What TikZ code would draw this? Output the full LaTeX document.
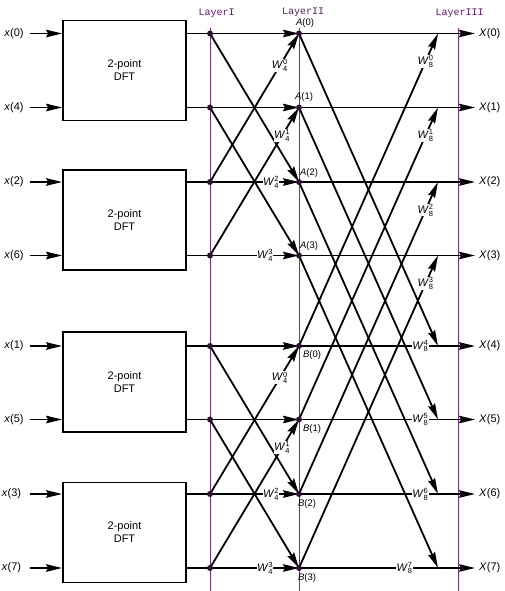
\documentclass[tikz,border=0pt]{standalone}
\usepackage{fontspec}
\setmainfont{Liberation Sans}
\newfontfamily\layerfont{Liberation Mono}
\usetikzlibrary{arrows.meta}
\definecolor{lpurple}{RGB}{125,45,135}
\definecolor{tpurple}{RGB}{95,25,110}
\definecolor{dotc}{RGB}{50,15,55}
\newcommand{\twf}[2]{\textit{W}$^{\mbox{\fontsize{7.5}{8}\selectfont #2}}_{\mbox{\fontsize{7.5}{8}\selectfont #1}}$}
\tikzset{
  wire/.style={line width=1.8pt, black},
  arr/.style={wire, -{Stealth[length=16pt,width=7.5pt,inset=2pt]}},
  layerline/.style={lpurple, line width=1pt},
  dot/.style={circle, fill=dotc, inner sep=0pt, minimum size=6pt},
  dftbox/.style={draw, line width=1.8pt, minimum width=123pt, minimum height=100pt, align=center, font=\fontsize{11}{13}\selectfont},
  lab/.style={font=\fontsize{11}{13}\selectfont, inner sep=1pt},
  nlab/.style={font=\fontsize{9.5}{11}\selectfont, inner sep=0pt},
  wlab/.style={font=\fontsize{11}{13}\selectfont, fill=white, inner sep=0.3pt},
  layerlab/.style={font=\layerfont\fontsize{10}{12}\selectfont, text=tpurple},
}
\begin{document}
\begin{tikzpicture}[x=1pt,y=-1pt]
\useasboundingbox (0,0) rectangle (504,591);
% rows
\foreach \i/\r in {0/33.5,1/107.5,2/182,3/255.5,4/346,5/419.5,6/494,7/568}{
  \coordinate (L\i) at (210,\r);
  \coordinate (T\i) at (438,\r);
  \coordinate (O\i) at (475,\r);
}
\coordinate (A0) at (299,33.5);
\coordinate (A1) at (299,107.5);
\coordinate (A2) at (299,182);
\coordinate (A3) at (299,255.5);
\coordinate (B0) at (299,346);
\coordinate (B1) at (299,419.5);
\coordinate (B2) at (299,494);
\coordinate (B3) at (299,568);
% layer guide lines
\coordinate (g1t) at (210,28); \coordinate (g1b) at (210,591);
\coordinate (g2t) at (299,28); \coordinate (g2b) at (299,591);
\coordinate (g3t) at (458,28); \coordinate (g3b) at (458,591);
\draw[layerline] (g1t) -- (g1b);
\draw[layerline] (g2t) -- (g2b);
\draw[layerline] (g3t) -- (g3b);
\node[layerlab] (ly1) at (216.5,13) {LayerI};
\node[layerlab] (ly2) at (303,12) {LayerII};
\node[layerlab] (ly3) at (459.5,13) {LayerIII};
% boxes
\node[dftbox] (box1) at (124.5,70.5) {2-point\\DFT};
\node[dftbox] (box2) at (124.5,220) {2-point\\DFT};
\node[dftbox] (box3) at (124.5,382) {2-point\\DFT};
\node[dftbox] (box4) at (124.5,532.5) {2-point\\DFT};
% inputs
\node[lab] (x0) at (14,33.5) {\textit{x}(0)};
\node[lab] (x4) at (14,107.5) {\textit{x}(4)};
\node[lab] (x2) at (14,182) {\textit{x}(2)};
\node[lab] (x6) at (14,255.5) {\textit{x}(6)};
\node[lab] (x1) at (14,346) {\textit{x}(1)};
\node[lab] (x5) at (14,419.5) {\textit{x}(5)};
\node[lab] (x3) at (11.5,494) {\textit{x}(3)};
\node[lab] (x7) at (11.5,568) {\textit{x}(7)};
\draw[arr, shorten <=5pt] (x0.east) -- (box1.west |- x0);
\draw[arr, shorten <=5pt] (x4.east) -- (box1.west |- x4);
\draw[arr, shorten <=5pt] (x2.east) -- (box2.west |- x2);
\draw[arr, shorten <=5pt] (x6.east) -- (box2.west |- x6);
\draw[arr, shorten <=5pt] (x1.east) -- (box3.west |- x1);
\draw[arr, shorten <=5pt] (x5.east) -- (box3.west |- x5);
\draw[arr, shorten <=7.5pt] (x3.east) -- (box4.west |- x3);
\draw[arr, shorten <=7.5pt] (x7.east) -- (box4.west |- x7);
% box outputs
\draw[wire] (box1.east |- L0) -- (L0);
\draw[wire] (box1.east |- L1) -- (L1);
\draw[wire] (box2.east |- L2) -- (L2);
\draw[wire] (box2.east |- L3) -- (L3);
\draw[wire] (box3.east |- L4) -- (L4);
\draw[wire] (box3.east |- L5) -- (L5);
\draw[wire] (box4.east |- L6) -- (L6);
\draw[wire] (box4.east |- L7) -- (L7);
% stage 1, top
\draw[arr] (L0) -- (A0);
\draw[arr] (L0) -- (A2);
\draw[arr] (L1) -- (A1);
\draw[arr] (L1) -- (A3);
\draw[arr] (L2) -- node[wlab,pos=0.785] (wa0) {\twf{4}{0}} (A0);
\draw[arr] (L2) -- node[wlab,pos=0.685] (wa2) {\twf{4}{2}} (A2);
\draw[arr] (L3) -- node[wlab,pos=0.81] (wa1) {\twf{4}{1}} (A1);
\draw[arr] (L3) -- node[wlab,pos=0.62] (wa3) {\twf{4}{3}} (A3);
% stage 1, bottom
\draw[arr] (L4) -- (B0);
\draw[arr] (L4) -- (B2);
\draw[arr] (L5) -- (B1);
\draw[arr] (L5) -- (B3);
\draw[arr] (L6) -- node[wlab,pos=0.785] (wb0) {\twf{4}{0}} (B0);
\draw[arr] (L6) -- node[wlab,pos=0.685] (wb2) {\twf{4}{2}} (B2);
\draw[arr] (L7) -- node[wlab,pos=0.81] (wb1) {\twf{4}{1}} (B1);
\draw[arr] (L7) -- node[wlab,pos=0.62] (wb3) {\twf{4}{3}} (B3);
% stage 2
\draw[arr] (A0) -- (O0);
\draw[arr] (A1) -- (O1);
\draw[arr] (A2) -- (O2);
\draw[arr] (A3) -- (O3);
\draw[arr] (A0) -- (T4);
\draw[arr] (A1) -- (T5);
\draw[arr] (A2) -- (T6);
\draw[arr] (A3) -- (T7);
\draw[arr] (B0) -- node[wlab,pos=0.91] (w80) {\twf{8}{0}} (T0);
\draw[arr] (B1) -- node[wlab,pos=0.91] (w81) {\twf{8}{1}} (T1);
\draw[arr] (B2) -- node[wlab,pos=0.91] (w82) {\twf{8}{2}} (T2);
\draw[arr] (B3) -- node[wlab,pos=0.91] (w83) {\twf{8}{3}} (T3);
\draw[arr] (B0) -- node[wlab,pos=0.69] (w84) {\twf{8}{4}} (O4);
\draw[arr] (B1) -- node[wlab,pos=0.69] (w85) {\twf{8}{5}} (O5);
\draw[arr] (B2) -- node[wlab,pos=0.69] (w86) {\twf{8}{6}} (O6);
\draw[arr] (B3) -- node[wlab,pos=0.60] (w87) {\twf{8}{7}} (O7);
% dots
\foreach \n in {L0,L1,L2,L3,L4,L5,L6,L7,A0,A1,A2,A3,B0,B1,B2,B3}{
  \node[dot] (d\n) at (\n) {};
}
% node labels
\node[nlab] (nA0) at (305,23) {\textit{A}(0)};
\node[nlab] (nA1) at (304,97) {\textit{A}(1)};
\node[nlab] (nA2) at (309,173) {\textit{A}(2)};
\node[nlab] (nA3) at (309,246) {\textit{A}(3)};
\node[nlab] (nB0) at (312,355) {\textit{B}(0)};
\node[nlab] (nB1) at (312,429) {\textit{B}(1)};
\node[nlab] (nB2) at (307,504) {\textit{B}(2)};
\node[nlab] (nB3) at (307,578) {\textit{B}(3)};
% outputs
\node[lab, anchor=west] (X0) at (478,33.5) {\textit{X}(0)};
\node[lab, anchor=west] (X1) at (478,107.5) {\textit{X}(1)};
\node[lab, anchor=west] (X2) at (478,182) {\textit{X}(2)};
\node[lab, anchor=west] (X3) at (478,255.5) {\textit{X}(3)};
\node[lab, anchor=west] (X4) at (478,346) {\textit{X}(4)};
\node[lab, anchor=west] (X5) at (478,419.5) {\textit{X}(5)};
\node[lab, anchor=west] (X6) at (478,494) {\textit{X}(6)};
\node[lab, anchor=west] (X7) at (478,568) {\textit{X}(7)};
\end{tikzpicture}
\end{document}
